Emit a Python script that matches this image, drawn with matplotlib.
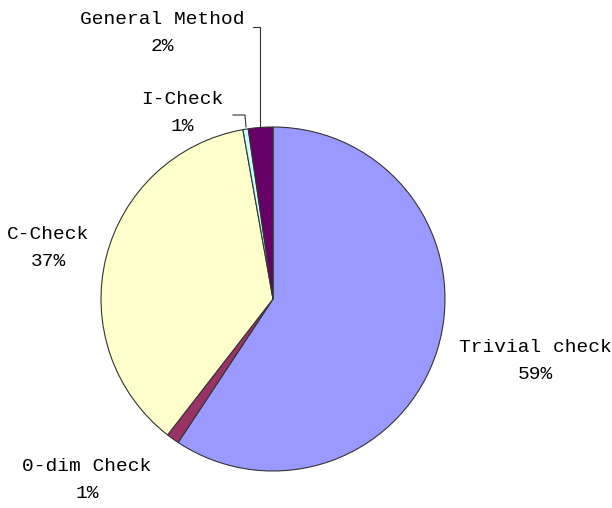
import matplotlib
matplotlib.use("Agg")
import matplotlib.pyplot as plt

# share of each check method (clockwise from 12 o'clock)
labels = ["Trivial check", "0-dim Check", "C-Check", "I-Check", "General Method"]
shares = [59.3, 1.2, 36.7, 0.5, 2.3]
pct_text = ["59%", "1%", "37%", "1%", "2%"]
colors = ["#9999FF", "#993366", "#FFFFCC", "#CCFFFF", "#660066"]

W, H = 612, 508
fig = plt.figure(figsize=(W / 100, H / 100), dpi=100)
ax = fig.add_axes([0, 0, 1, 1])

cx, cy, r = 273, H - 299, 172
ax.pie(shares, colors=colors, startangle=90, counterclock=False,
       center=(cx, cy), radius=r, frame=True,
       wedgeprops=dict(edgecolor="#333333", linewidth=0.8))
ax.set_xlim(0, W)
ax.set_ylim(0, H)
ax.set_aspect("equal")
ax.axis("off")

font = dict(family="Liberation Mono", size=14, color="black",
            ha="center", va="center", linespacing=1.75)
label_pos = [(535, H - 361), (87, H - 480), (48, H - 248), (182, H - 113), (162, H - 33)]
for lab, pct, (x, y) in zip(labels, pct_text, label_pos):
    ax.text(x, y, lab + "\n" + pct, **font)

# leader lines for the two thin slices near the top
ax.plot([253, 260, 260], [H - 27, H - 27, H - 127], color="#333333", lw=0.8)
ax.plot([233, 245, 246], [H - 115, H - 115, H - 127], color="#333333", lw=0.8)

fig.savefig("out.png", dpi=100)
